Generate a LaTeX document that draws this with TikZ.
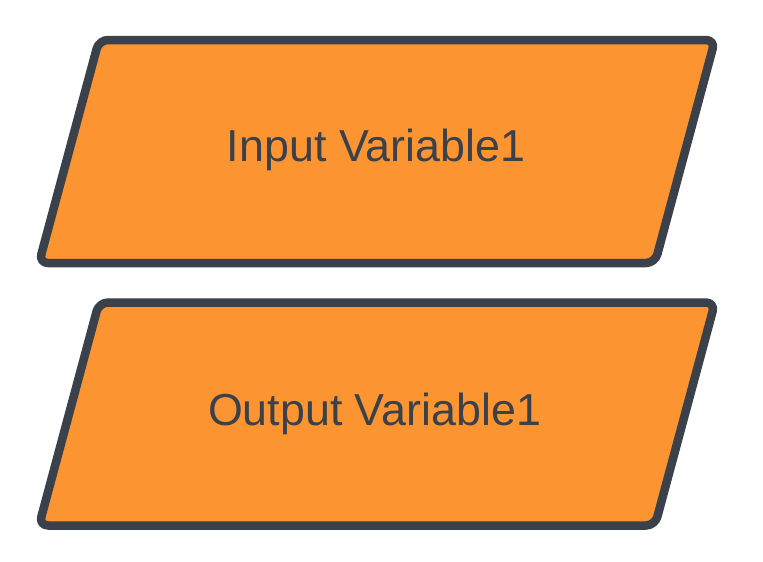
\documentclass[tikz,border=0pt]{standalone}
\usepackage{fontspec}
\setmainfont{Liberation Sans}
\definecolor{boxfill}{HTML}{FC9432}
\definecolor{boxline}{HTML}{3A414A}
\tikzset{
  iobox/.style={fill=boxfill, draw=boxline, line width=8.5pt, rounded corners=9pt, line join=round},
  iolabel/.style={text=boxline, font=\fontsize{44.8}{52}\selectfont, inner sep=0pt, anchor=base}
}
\begin{document}
\begin{tikzpicture}[x=1pt,y=-1pt]
\useasboundingbox (0,0) rectangle (763,562);
\fill[white] (0,0) rectangle (763,562);
\draw[iobox] (99,40) -- (715,40) -- (655,263) -- (39,263) -- cycle;
\draw[iobox] (99,302.5) -- (715,302.5) -- (655,525.5) -- (39,525.5) -- cycle;
\node[iolabel] (in) at (376,161.7) {Input Variable1};
\node[iolabel] (out) at (374.5,425.7) {Output Variable1};
\end{tikzpicture}
\end{document}
